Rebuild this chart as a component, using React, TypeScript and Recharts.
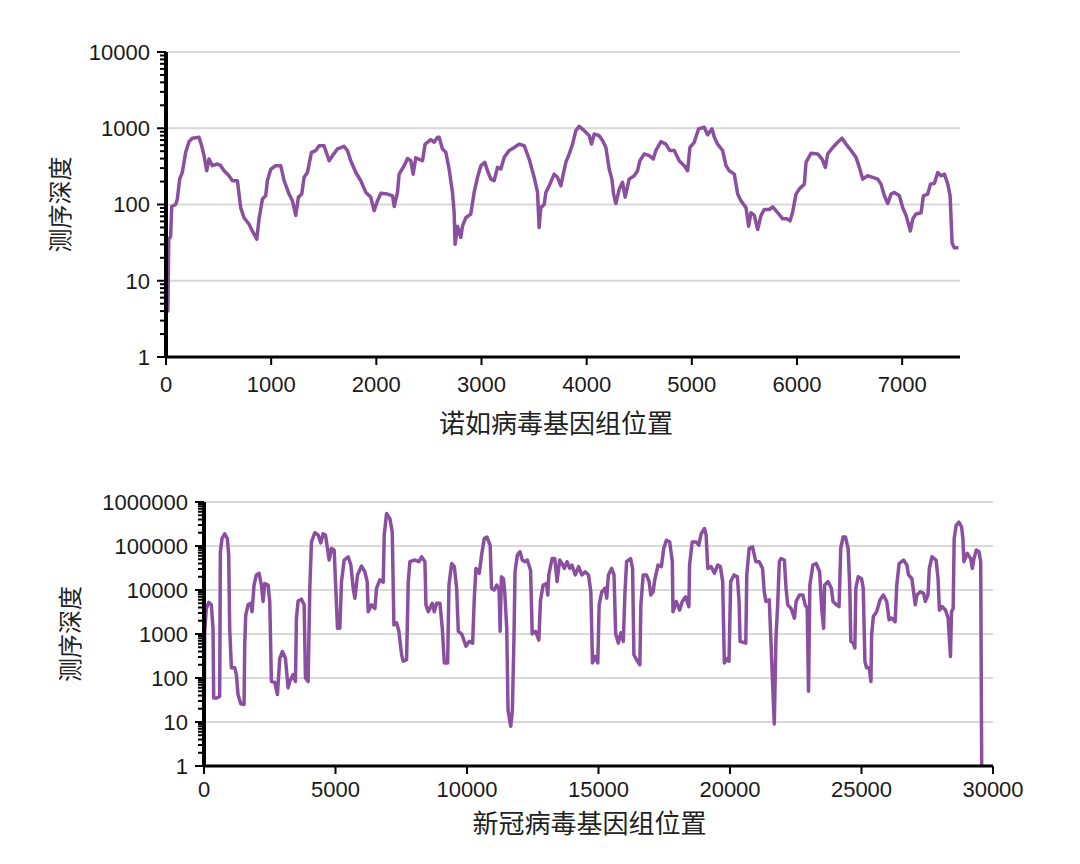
import React from "react";
import {
    LineChart,
    Line,
    XAxis,
    YAxis,
    ReferenceLine,
} from "recharts";

// 诺如病毒 (norovirus) depth: [position, depth]
const noroPos = [
    0, 18, 26, 44, 54, 92, 108, 130, 155, 187, 219, 250, 314, 339, 362, 387, 409, 441, 488, 520,
    552, 599, 631, 679, 710, 742, 790, 821, 863, 885, 917, 948, 964, 996, 1043, 1091, 1123, 1170, 1202, 1234,
    1259, 1291, 1313, 1345, 1383, 1424, 1456, 1503, 1551, 1583, 1630, 1693, 1725, 1757, 1805, 1852, 1900, 1947, 1979, 2011,
    2043, 2106, 2154, 2170, 2201, 2217, 2265, 2296, 2328, 2350, 2375, 2439, 2464, 2518, 2550, 2582, 2597, 2629, 2661, 2692,
    2724, 2740, 2749, 2772, 2803, 2819, 2851, 2898, 2930, 2962, 2994, 3032, 3057, 3089, 3120, 3152, 3184, 3216, 3263, 3311,
    3358, 3406, 3453, 3501, 3533, 3548, 3564, 3596, 3612, 3644, 3691, 3723, 3755, 3771, 3802, 3834, 3866, 3897, 3929, 3977,
    4024, 4046, 4072, 4119, 4151, 4183, 4214, 4240, 4256, 4278, 4310, 4341, 4366, 4404, 4452, 4484, 4506, 4547, 4595, 4633,
    4658, 4706, 4753, 4791, 4833, 4880, 4928, 4960, 4982, 5023, 5064, 5118, 5150, 5192, 5214, 5245, 5293, 5325, 5356, 5404,
    5436, 5467, 5515, 5540, 5562, 5594, 5626, 5658, 5689, 5737, 5769, 5816, 5864, 5902, 5934, 5959, 5991, 6022, 6070, 6086,
    6133, 6197, 6238, 6270, 6292, 6340, 6387, 6428, 6466, 6514, 6561, 6593, 6625, 6672, 6720, 6768, 6799, 6831, 6863, 6894,
    6926, 6974, 7005, 7037, 7078, 7101, 7132, 7180, 7202, 7243, 7269, 7307, 7338, 7370, 7402, 7434, 7456, 7475, 7497, 7535,
];
const noroDepth = [
    4, 4, 35, 38, 94, 100, 118, 215, 263, 483, 667, 740, 760, 590, 437, 277, 395, 323, 340, 323,
    277, 238, 205, 205, 91, 67, 55, 45, 35, 65, 118, 130, 205, 290, 323, 323, 205, 137, 112, 72,
    125, 137, 227, 263, 483, 510, 590, 590, 375, 437, 535, 580, 510, 375, 263, 205, 144, 125, 83, 112,
    140, 137, 130, 94, 144, 250, 323, 400, 375, 250, 410, 375, 620, 710, 655, 760, 760, 535, 483, 292,
    144, 78, 30, 52, 37, 52, 67, 75, 144, 227, 323, 357, 277, 215, 205, 307, 292, 415, 510, 560,
    620, 590, 395, 227, 144, 50, 91, 100, 144, 176, 250, 227, 176, 227, 357, 460, 620, 930, 1060, 930,
    800, 620, 840, 800, 690, 560, 292, 215, 137, 103, 160, 195, 125, 215, 238, 277, 375, 460, 437, 395,
    510, 667, 620, 510, 510, 375, 323, 277, 560, 655, 980, 1030, 820, 980, 760, 620, 510, 323, 277, 250,
    137, 112, 91, 52, 78, 72, 47, 72, 86, 86, 93, 78, 65, 65, 61, 80, 137, 160, 185, 357,
    470, 460, 395, 307, 460, 560, 655, 740, 620, 510, 415, 307, 215, 238, 227, 215, 185, 130, 103, 137,
    144, 130, 91, 72, 45, 65, 75, 78, 130, 137, 185, 190, 263, 238, 250, 185, 130, 31, 27, 27,
];

// 新冠病毒 (SARS-CoV-2) depth: [position, depth]
const covPos = [
    0, 25, 89, 178, 279, 343, 368, 470, 596, 622, 685, 787, 888, 939, 977, 1041, 1167, 1231, 1294, 1396,
    1523, 1548, 1586, 1675, 1777, 1827, 1903, 1992, 2094, 2183, 2246, 2310, 2436, 2500, 2563, 2690, 2792, 2881, 2982, 3096,
    3198, 3261, 3388, 3477, 3515, 3579, 3705, 3807, 3858, 3959, 4023, 4086, 4213, 4340, 4441, 4530, 4619, 4695, 4759, 4848,
    4949, 5000, 5076, 5165, 5228, 5330, 5482, 5584, 5672, 5736, 5837, 5990, 6117, 6205, 6243, 6370, 6497, 6561, 6688, 6815,
    6853, 6941, 7068, 7157, 7221, 7322, 7411, 7512, 7576, 7703, 7766, 7829, 8020, 8172, 8274, 8400, 8439, 8528, 8680, 8756,
    8845, 8972, 9061, 9137, 9264, 9314, 9416, 9518, 9606, 9670, 9797, 9899, 9962, 10088, 10214, 10277, 10340, 10466, 10554, 10655,
    10755, 10881, 10932, 11032, 11133, 11221, 11259, 11309, 11385, 11435, 11511, 11561, 11662, 11725, 11788, 11826, 11914, 12014, 12102, 12191,
    12291, 12417, 12480, 12606, 12732, 12795, 12896, 13022, 13072, 13110, 13236, 13337, 13425, 13525, 13614, 13702, 13802, 13903, 13991, 14117,
    14243, 14369, 14495, 14621, 14709, 14772, 14873, 14973, 15024, 15124, 15250, 15313, 15376, 15502, 15590, 15653, 15754, 15855, 15943, 16006,
    16069, 16220, 16296, 16346, 16447, 16573, 16611, 16699, 16825, 16925, 16988, 17076, 17139, 17265, 17391, 17480, 17580, 17706, 17807, 17832,
    17958, 18084, 18185, 18311, 18437, 18462, 18563, 18714, 18815, 18903, 19029, 19092, 19155, 19281, 19407, 19532, 19633, 19722, 19785, 19911,
    19962, 20026, 20153, 20281, 20345, 20383, 20600, 20638, 20727, 20855, 20983, 21110, 21238, 21302, 21365, 21493, 21557, 21621, 21684, 21748,
    21812, 21876, 21940, 22067, 22131, 22195, 22322, 22450, 22514, 22641, 22769, 22858, 22935, 22986, 23037, 23152, 23279, 23407, 23496, 23560,
    23598, 23726, 23854, 23917, 24045, 24147, 24211, 24300, 24389, 24492, 24555, 24594, 24683, 24747, 24785, 24874, 25002, 25066, 25130, 25193,
    25295, 25359, 25385, 25449, 25576, 25704, 25831, 25959, 26048, 26150, 26278, 26342, 26431, 26597, 26725, 26788, 26916, 26980, 27044, 27107,
    27235, 27363, 27426, 27528, 27579, 27681, 27835, 27911, 27962, 28064, 28192, 28294, 28383, 28422, 28485, 28524, 28600, 28702, 28804, 28855,
    28894, 29021, 29149, 29213, 29277, 29366, 29468, 29532, 29570,
];
const covDepth = [
    1.8, 1150, 3800, 5250, 4600, 1350, 35, 35, 38, 74000, 148000, 190000, 148000, 62000, 1350, 170, 170, 120, 42, 26,
    25, 560, 2700, 4600, 5000, 3200, 13000, 22000, 24000, 13000, 5500, 14000, 13000, 5500, 83, 80, 42, 280, 400, 280,
    60, 83, 120, 83, 2300, 5600, 6200, 4600, 100, 83, 11000, 124000, 200000, 178000, 118000, 190000, 178000, 88000, 48000, 88000,
    80000, 15500, 1350, 1350, 15500, 48000, 57000, 37000, 11000, 6500, 22000, 35000, 26000, 15500, 3200, 4600, 3800, 11000, 17000, 15000,
    178000, 550000, 420000, 210000, 1600, 1800, 1150, 340, 240, 260, 15500, 44000, 48000, 44000, 57000, 44000, 4600, 3200, 5000, 3200,
    5000, 5000, 1350, 220, 220, 13000, 40000, 34000, 11000, 1150, 1000, 680, 530, 680, 620, 6500, 31000, 24000, 62000, 148000,
    160000, 105000, 11000, 10000, 13000, 10000, 1150, 20000, 18000, 9000, 1350, 18, 8, 18, 1000, 26000, 62000, 74000, 48000, 44000,
    48000, 28000, 1000, 1150, 730, 5900, 13000, 14000, 7700, 22000, 52000, 52000, 15500, 48000, 40000, 31000, 44000, 31000, 37000, 22000,
    34000, 22000, 26000, 22000, 9000, 220, 310, 220, 4600, 9000, 11000, 6500, 22000, 31000, 22000, 1000, 620, 1070, 680, 9000,
    44000, 52000, 31000, 340, 260, 200, 4600, 22000, 22000, 15500, 7700, 9000, 17000, 37000, 34000, 88000, 135000, 124000, 44000, 3200,
    5500, 3500, 5500, 7000, 4200, 37000, 124000, 124000, 105000, 190000, 250000, 178000, 31000, 34000, 24000, 37000, 34000, 15500, 220, 280,
    240, 15500, 22000, 20000, 5500, 680, 620, 22000, 88000, 96000, 44000, 44000, 31000, 9100, 5500, 6000, 680, 71, 9, 800,
    4600, 44000, 52000, 48000, 11000, 4600, 3800, 2300, 5500, 7700, 7700, 4600, 3800, 50, 13000, 37000, 40000, 26000, 3200, 1350,
    13000, 15500, 11000, 5500, 4600, 4200, 88000, 161000, 161000, 88000, 11000, 680, 620, 480, 11000, 20000, 18000, 11000, 240, 170,
    170, 83, 950, 2500, 3200, 5900, 7700, 5500, 2100, 2300, 1900, 13000, 40000, 48000, 37000, 22000, 18000, 9100, 4600, 7700,
    9100, 8400, 5500, 7700, 31000, 57000, 48000, 18000, 3500, 4200, 3500, 2300, 310, 3200, 3800, 148000, 296000, 350000, 272000, 148000,
    44000, 68000, 52000, 31000, 52000, 81000, 74000, 44000, 1,
];

const noroTicksX = [0, 1000, 2000, 3000, 4000, 5000, 6000, 7000];
const covTicksX = [0, 5000, 10000, 15000, 20000, 25000, 30000];
const noroDecades = [1, 10, 100, 1000, 10000];
const covDecades = [1, 10, 100, 1000, 10000, 100000, 1000000];

const purple = "#8b4fa0";
const numFont = "'Liberation Sans', Arial, sans-serif";
const cjkFont = "'Noto Sans CJK SC', sans-serif";

const logTicks = (decades: number[]) => {
    const out: number[] = [];
    decades.forEach((d, i) => {
        out.push(d);
        if (i < decades.length - 1) {
            for (let k = 2; k <= 9; k++) out.push(d * k);
        }
    });
    return out;
};

const isDecade = (v: number) => Math.abs(Math.log10(v) - Math.round(Math.log10(v))) < 1e-9;

const LogTick = (props: any) => {
    const { x, y, payload } = props;
    const v = payload.value;
    const major = isDecade(v);
    return (
        <g>
            <line x1={x - (major ? 9 : 6)} x2={x} y1={y} y2={y} stroke="#000" strokeWidth={2} />
            {major && (
                <text
                    x={x - 16}
                    y={y}
                    dy="0.36em"
                    textAnchor="end"
                    fontSize={22}
                    fontFamily={numFont}
                    fill="#1a1a1a"
                >
                    {v}
                </text>
            )}
        </g>
    );
};

interface DepthProps {
    pos: number[];
    depth: number[];
    decades: number[];
    ticksX: number[];
    maxX: number;
    width: number;
    height: number;
    margin: { top: number; right: number; bottom: number; left: number };
    yAxisWidth: number;
    xAxisHeight: number;
    tickMargin: number;
    xTitle: string;
    xTitleOffset: number;
    xTitleDx: number;
    yTitleOffset: number;
}

const DepthChart: React.FC<DepthProps> = (p) => {
    const data = p.pos.map((x, i) => ({ pos: x, depth: p.depth[i] }));
    const top = p.decades[p.decades.length - 1];
    return (
        <LineChart width={p.width} height={p.height} data={data} margin={p.margin}>
            {p.decades.slice(1).map((d) => (
                <ReferenceLine key={d} y={d} stroke="#d9d9d9" strokeWidth={2} />
            ))}
            <XAxis
                dataKey="pos"
                type="number"
                domain={[0, p.maxX]}
                ticks={p.ticksX}
                interval={0}
                height={p.xAxisHeight}
                axisLine={{ stroke: "#000", strokeWidth: 3 }}
                tickLine={{ stroke: "#000", strokeWidth: 2 }}
                tickSize={8}
                tickMargin={p.tickMargin}
                tick={{ fontSize: 22, fontFamily: numFont, fill: "#1a1a1a" }}
                label={{
                    value: p.xTitle,
                    position: "insideBottom",
                    offset: p.xTitleOffset,
                    dx: p.xTitleDx,
                    style: { fontSize: 26, fontFamily: cjkFont, fill: "#222" },
                }}
            />
            <YAxis
                type="number"
                scale="log"
                domain={[1, top]}
                allowDataOverflow
                ticks={logTicks(p.decades)}
                interval={0}
                width={p.yAxisWidth}
                axisLine={{ stroke: "#000", strokeWidth: 4 }}
                tickLine={false}
                tickSize={0}
                tickMargin={0}
                tick={<LogTick />}
                label={{
                    value: "测序深度",
                    angle: -90,
                    position: "insideLeft",
                    offset: p.yTitleOffset,
                    style: { fontSize: 24, fontFamily: cjkFont, fill: "#222", textAnchor: "middle" },
                }}
            />
            <Line
                type="linear"
                dataKey="depth"
                stroke={purple}
                strokeWidth={3.5}
                strokeLinejoin="round"
                dot={false}
                isAnimationActive={false}
            />
        </LineChart>
    );
};

const App: React.FC = () => {
    return (
        <div style={{ position: "absolute", left: 0, top: 0, width: 1080, height: 864, background: "#fff" }}>
            <div style={{ position: "absolute", left: 0, top: 0 }}>
                <DepthChart
                    pos={noroPos}
                    depth={noroDepth}
                    decades={noroDecades}
                    ticksX={noroTicksX}
                    maxX={7550}
                    width={1080}
                    height={460}
                    margin={{ top: 52, right: 120, bottom: 0, left: 0 }}
                    yAxisWidth={166}
                    xAxisHeight={103}
                    tickMargin={11}
                    xTitle="诺如病毒基因组位置"
                    xTitleOffset={27}
                    xTitleDx={-7}
                    yTitleOffset={60}
                />
            </div>
            <div style={{ position: "absolute", left: 0, top: 460 }}>
                <DepthChart
                    pos={covPos}
                    depth={covDepth}
                    decades={covDecades}
                    ticksX={covTicksX}
                    maxX={30000}
                    width={1080}
                    height={404}
                    margin={{ top: 42, right: 87, bottom: 0, left: 0 }}
                    yAxisWidth={204}
                    xAxisHeight={98}
                    tickMargin={7}
                    xTitle="新冠病毒基因组位置"
                    xTitleOffset={31}
                    xTitleDx={-9}
                    yTitleOffset={70}
                />
            </div>
        </div>
    );
};

export default App;
